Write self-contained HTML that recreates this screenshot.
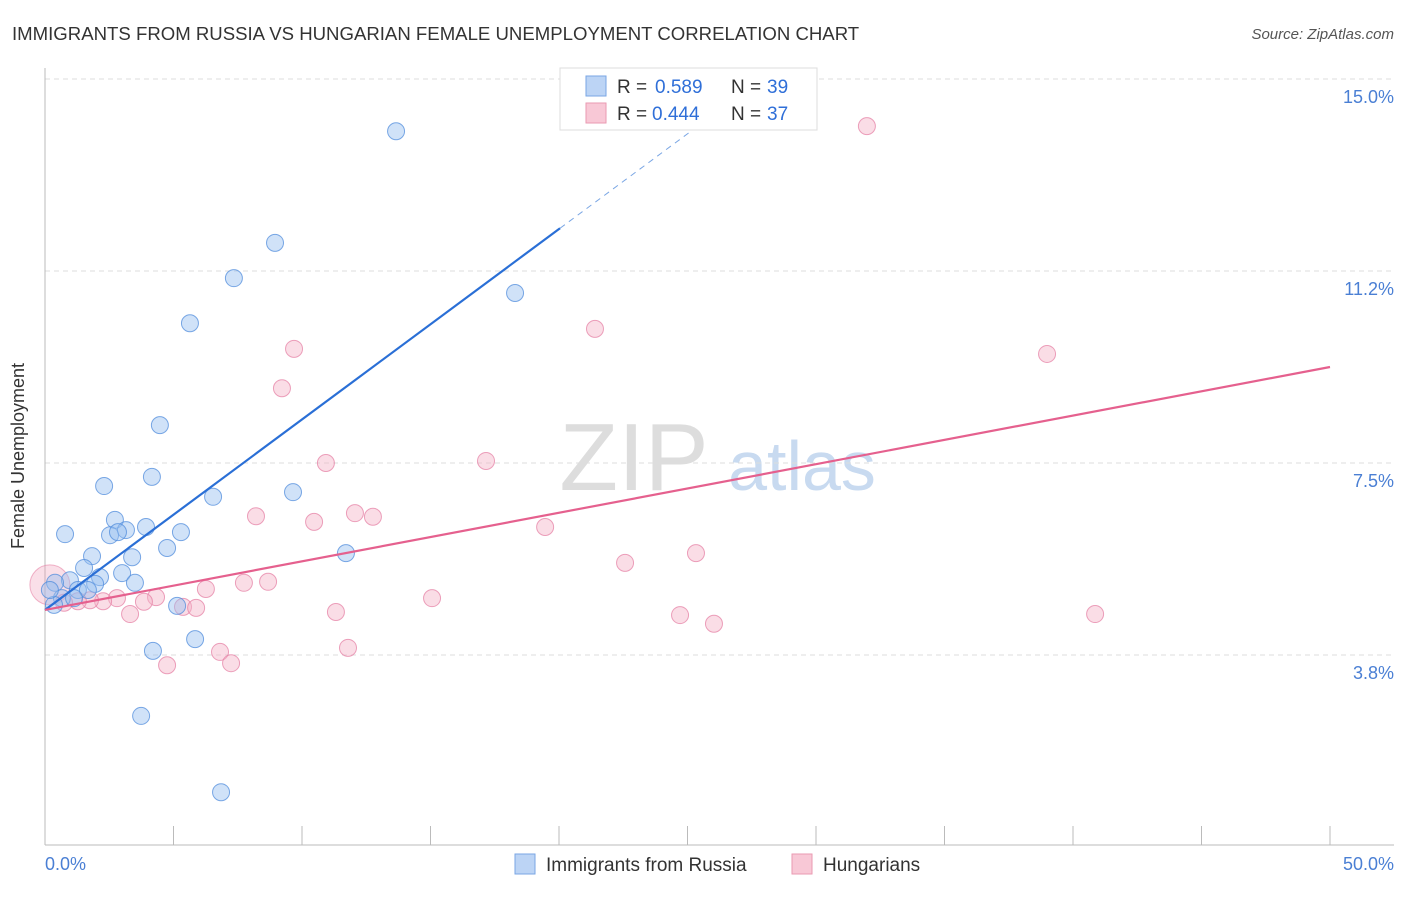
<!DOCTYPE html>
<html><head><meta charset="utf-8"><style>
body{margin:0;background:#fff;font-family:"Liberation Sans",sans-serif}
svg text{font-family:"Liberation Sans",sans-serif}
</style></head><body>
<svg width="1406" height="892" xmlns="http://www.w3.org/2000/svg">
<text x="12" y="40" font-size="18.6" fill="#333">IMMIGRANTS FROM RUSSIA VS HUNGARIAN FEMALE UNEMPLOYMENT CORRELATION CHART</text>
<text x="1394" y="39" font-size="15" fill="#555" text-anchor="end" font-style="italic">Source: ZipAtlas.com</text>
<text x="634" y="490" font-size="96" fill="#ddd" font-family="Liberation Serif" text-anchor="middle">ZIP</text>
<text x="802" y="490" font-size="70" fill="#c8daf0" text-anchor="middle">atlas</text>
<g id="grid"></g>
<line x1="45" y1="68" x2="45" y2="845" stroke="#bbb"/>
<line x1="45" y1="845" x2="1394" y2="845" stroke="#bbb"/>
<g id="xt"></g>
<text x="24" y="456" font-size="18" fill="#333" text-anchor="middle" transform="rotate(-90 24 456)">Female Unemployment</text>
<text x="45" y="870" font-size="18" fill="#4a7fd4">0.0%</text>
<text x="1394" y="870" font-size="18" fill="#4a7fd4" text-anchor="end">50.0%</text>
<g id="pts"></g>
<g id="lines"></g>
<g>
<rect x="560" y="68" width="257" height="62" fill="#fff" stroke="#ddd"/>
<rect x="586" y="76" width="20" height="20" fill="#bcd4f5" stroke="#7aa6e4"/>
<text x="617" y="93" font-size="19" fill="#333">R =</text>
<text x="655" y="93" font-size="19" fill="#2f6fd8">0.589</text>
<text x="731" y="93" font-size="19" fill="#333">N =</text>
<text x="767" y="93" font-size="19" fill="#2f6fd8">39</text>
<rect x="586" y="103" width="20" height="20" fill="#f8c8d6" stroke="#ea9ab2"/>
<text x="617" y="120" font-size="19" fill="#333">R =</text>
<text x="652" y="120" font-size="19" fill="#2f6fd8">0.444</text>
<text x="731" y="120" font-size="19" fill="#333">N =</text>
<text x="767" y="120" font-size="19" fill="#2f6fd8">37</text>
</g>
<g>
<rect x="515" y="854" width="20" height="20" fill="#bcd4f5" stroke="#7aa6e4"/>
<text x="546" y="871" font-size="19" fill="#333">Immigrants from Russia</text>
<rect x="792" y="854" width="20" height="20" fill="#f8c8d6" stroke="#ea9ab2"/>
<text x="823" y="871" font-size="19" fill="#333">Hungarians</text>
</g>
</svg>
<script>
const yTicks=[3.8,7.5,11.2,15.0];
const yTickVals=[3.75,7.5,11.25,15.0];
const blueX=[13.66,8.95,7.35,18.29,5.64,4.47,4.16,2.30,6.54,9.65,2.72,3.93,3.15,2.53,2.84,5.29,0.78,4.75,1.83,3.39,11.71,1.52,3.00,2.14,0.97,0.39,3.50,1.95,1.28,1.67,0.66,1.13,0.35,5.14,5.84,4.20,3.74,6.85,0.19];
const blueY=[13.98,11.80,11.11,10.82,10.23,8.24,7.23,7.05,6.84,6.93,6.39,6.25,6.19,6.09,6.15,6.15,6.11,5.84,5.68,5.66,5.74,5.45,5.35,5.27,5.21,5.16,5.16,5.14,5.02,5.02,4.86,4.86,4.73,4.71,4.06,3.83,2.56,1.07,5.02];
const pinkX=[31.98,21.40,9.69,38.99,9.22,17.16,10.93,8.21,12.06,12.76,10.47,19.46,25.33,22.57,7.74,8.68,6.26,15.06,4.32,2.80,3.85,2.26,1.75,1.28,0.74,5.37,5.88,11.32,24.71,40.86,3.31,26.03,11.79,6.81,7.24,4.75];
const pinkY=[14.08,10.12,9.73,9.63,8.96,7.54,7.50,6.46,6.52,6.45,6.35,6.25,5.74,5.55,5.16,5.18,5.04,4.86,4.88,4.86,4.79,4.80,4.82,4.80,4.77,4.69,4.67,4.59,4.53,4.55,4.55,4.36,3.89,3.81,3.59,3.55];
const blueFit=[4.63,0.372];
const pinkFit=[4.63,0.0949];
const sx=v=>45+v*25.7, sy=v=>847-v*51.2;
const NS="http://www.w3.org/2000/svg";
function mk(tag,attrs,parent){const e=document.createElementNS(NS,tag);for(const k in attrs)e.setAttribute(k,attrs[k]);parent.appendChild(e);return e;}
const grid=document.getElementById('grid');
yTickVals.forEach((v,i)=>{
 const l=mk('line',{x1:45,x2:1394,y1:sy(v),y2:sy(v),stroke:'#ddd','stroke-dasharray':'5,4'},grid);
 
 
 const t=mk('text',{x:1394,y:sy(v)+24,'font-size':18,fill:'#4a7fd4','text-anchor':'end'},grid);
 t.textContent=yTicks[i].toFixed(1)+'%';
 
 
});
const xt=document.getElementById('xt');
for(let i=0;i<=10;i++){
 const l=mk('line',{x1:sx(i*5),x2:sx(i*5),y1:826,y2:845,stroke:'#bbb'},xt);
 
 
}
const pts=document.getElementById('pts');
const big=mk('circle',{cx:sx(0.19),cy:sy(5.12),r:20,fill:'rgba(240,150,180,0.3)',stroke:'rgba(230,130,165,0.6)'},pts);


pinkX.forEach((x,i)=>{
 const c=mk('circle',{cx:sx(x),cy:sy(pinkY[i]),r:8.5,fill:'rgba(245,180,200,0.45)',stroke:'rgba(230,130,165,0.75)'},pts);
 
 
});
blueX.forEach((x,i)=>{
 const c=mk('circle',{cx:sx(x),cy:sy(blueY[i]),r:8.5,fill:'rgba(150,190,240,0.45)',stroke:'rgba(80,140,220,0.75)'},pts);
 
 
});
const lines=document.getElementById('lines');
let l=mk('line',{x1:sx(0),y1:sy(blueFit[0]),x2:sx(20.04),y2:sy(blueFit[0]+blueFit[1]*20.04),stroke:'#2a6fd6','stroke-width':2.2},lines);


l=mk('line',{x1:sx(20.04),y1:sy(blueFit[0]+blueFit[1]*20.04),x2:sx(26.65),y2:sy(blueFit[0]+blueFit[1]*26.65),stroke:'#7aa6e4','stroke-width':1,'stroke-dasharray':'6,5'},lines);


l=mk('line',{x1:sx(0),y1:sy(pinkFit[0]),x2:sx(50),y2:sy(pinkFit[0]+pinkFit[1]*50),stroke:'#e5608e','stroke-width':2.2},lines);


</script>
</body></html>
